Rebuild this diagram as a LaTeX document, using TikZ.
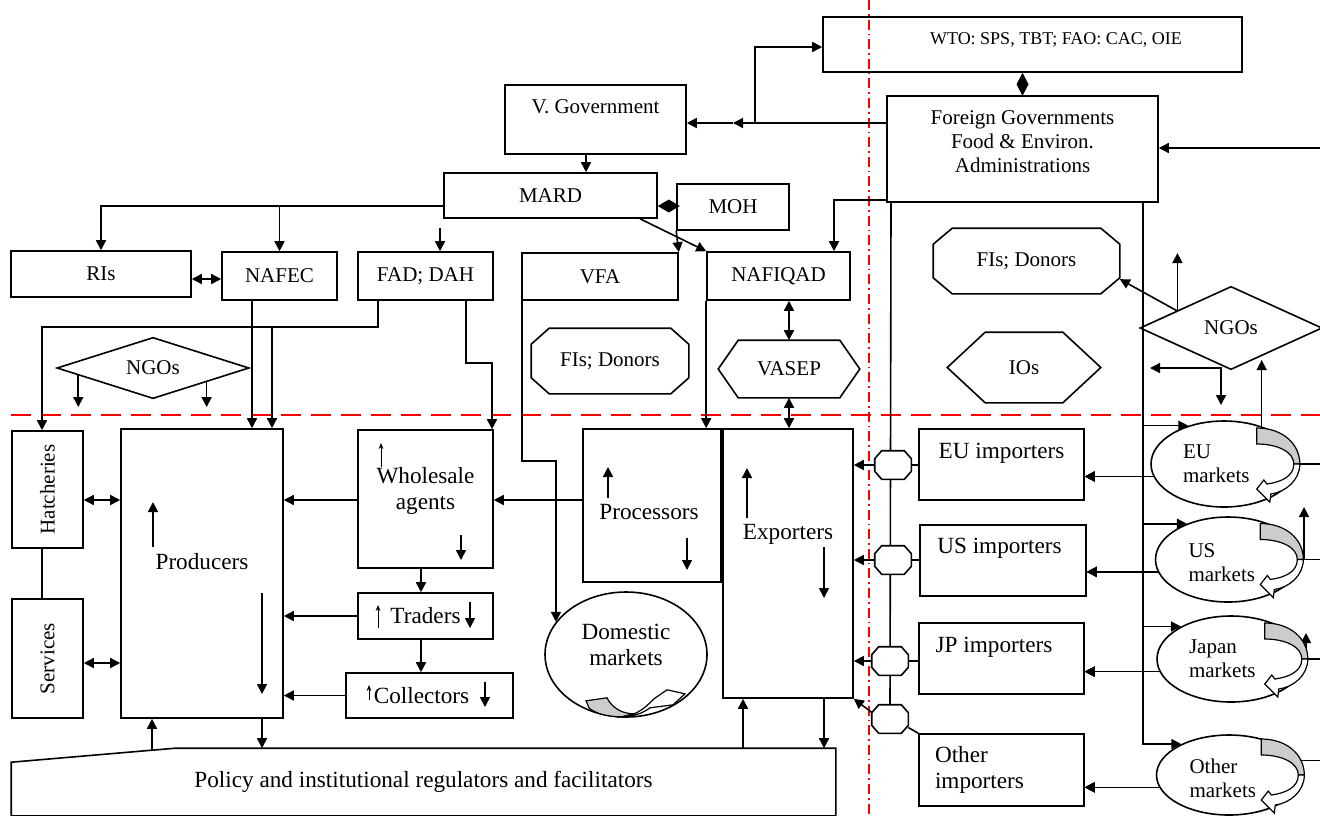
\documentclass[tikz,border=0pt]{standalone}
\usepackage{fontspec}
\setmainfont{Liberation Serif}
\usetikzlibrary{arrows.meta, calc, positioning, shapes.geometric}
\newcommand\smfont{\fontsize{10.5}{12}\selectfont}
\newcommand\lgfont{\fontsize{11.6}{13}\selectfont}
\newcommand\wtofont{\fontsize{9}{11}\selectfont}
% outlines drawn round plain nodes
\newcommand\octo[4][]{\draw[#1] ([yshift=-#4]#2.north west) -- ([xshift=#3]#2.north west) -- ([xshift=-#3]#2.north east) -- ([yshift=-#4]#2.north east) -- ([yshift=#4]#2.south east) -- ([xshift=-#3]#2.south east) -- ([xshift=#3]#2.south west) -- ([yshift=#4]#2.south west) -- cycle;}
\newcommand\hexa[2]{\draw (#1.west) -- ([xshift=#2]#1.north west) -- ([xshift=-#2]#1.north east) -- (#1.east) -- ([xshift=-#2]#1.south east) -- ([xshift=#2]#1.south west) -- cycle;}
\newcommand\rhomb[1]{\draw (#1.west) -- (#1.north) -- (#1.east) -- (#1.south) -- cycle;}
\tikzset{
  box/.style={draw, inner sep=0pt, font=\smfont},
  shp/.style={inner sep=0pt, font=\smfont},
  mkt/.style={draw, ellipse, inner sep=0pt},
  lbl/.style={inner sep=0pt, align=center, font=\smfont},
  small arrow/.style={line width=0.5pt, -{Stealth[length=3pt,width=2.4pt]}},
  redline/.style={red, line width=0.9pt, dash pattern=on 10pt off 5pt},
  reddot/.style={red, line width=0.7pt, dash pattern=on 5pt off 2pt on 0.8pt off 2pt},
  cyc/.pic={
    \filldraw[fill=gray!40, line width=0.6pt] (-41,-36) .. controls (-15,-36) and (2,-20) .. (2,0) -- (-4,0) .. controls (-4,-12) and (-20,-20) .. (-41,-20) -- cycle;
    \filldraw[fill=white, line width=0.6pt] (2,0) .. controls (2,16) and (-12,28) .. (-27,30) -- (-28,38) -- (-41,25) -- (-34,16) -- (-31,20) .. controls (-16,18) and (-4,12) .. (-4,0) -- cycle;
  }
}
\begin{document}
\begin{tikzpicture}[x=0.5pt, y=-0.5pt, line width=0.8pt, >={Triangle[length=5pt,width=5pt]}]
\useasboundingbox (0,0) rectangle (1320,815);
\draw[redline] (11,415) -- (1320,415);
\draw[reddot] (869,0) -- (869,815);

% upper half
\node[box, minimum width=209.5pt, minimum height=27.5pt, label={[lbl, font=\wtofont, xshift=11.75pt, yshift=2.25pt]center:{WTO: SPS, TBT; FAO: CAC, OIE}}] (wto) at (1032.5,44.5) {};
\node[box, minimum width=90.5pt, minimum height=34.5pt, label={[lbl, yshift=6.25pt]center:V. Government}] (gov) at (595.5,119.5) {};
\node[box, minimum width=135.5pt, minimum height=53pt, label={[lbl, yshift=3.5pt]center:{Foreign Governments\\Food \& Environ.\\Administrations}}] (foreign) at (1022.5,149) {};
\node[box, minimum width=106.5pt, minimum height=22.5pt] (mard) at (550.5,195.5) {MARD};
\node[box, minimum width=56pt, minimum height=23pt] (moh) at (733,207) {MOH};
\node[box, minimum width=90pt, minimum height=23pt] (ris) at (101,274) {RIs};
\node[box, minimum width=57.5pt, minimum height=24pt] (nafec) at (279.5,276) {NAFEC};
\node[box, minimum width=67.5pt, minimum height=24pt] (fad) at (425.5,276) {FAD; DAH};
\node[box, minimum width=78pt, minimum height=23.5pt] (vfa) at (600,276.5) {VFA};
\node[box, minimum width=71.5pt, minimum height=24pt] (nafiqad) at (778.5,276) {NAFIQAD};
\node[shp, minimum width=92.5pt, minimum height=32pt] (fisR) at (1026.5,261) {FIs; Donors};
\node[shp, minimum width=78pt, minimum height=32pt] (fisM) at (610,361) {FIs; Donors};
\node[shp, minimum width=70pt, minimum height=28pt] (vasep) at (789,369) {VASEP};
\node[shp, minimum width=76pt, minimum height=34.5pt] (ios) at (1024,367.5) {IOs};
\node[shp, minimum width=95pt, minimum height=29.5pt] (ngoL) at (153,368) {NGOs};
\node[shp, minimum width=90pt, minimum height=40.5pt] (ngoR) at (1231,328) {NGOs};
\octo{fisR}{9.5pt}{8pt}
\octo{fisM}{9pt}{8pt}
\hexa{vasep}{10pt}
\hexa{ios}{19pt}
\rhomb{ngoL}
\rhomb{ngoR}

% lower half
\node[box, minimum width=35.5pt, minimum height=58.5pt, label={[lbl, rotate=90]center:Hatcheries}] (hatch) at (47.5,489.5) {};
\node[box, minimum width=35.5pt, minimum height=59.5pt, label={[lbl, rotate=90]center:Services}] (serv) at (47.5,658.5) {};
\node[box, minimum width=81pt, minimum height=144.5pt, label={[lbl, font=\lgfont, yshift=5.75pt]center:Producers}] (prod) at (202,573.5) {};
\node[box, minimum width=67.5pt, minimum height=69pt, label={[lbl, font=\lgfont, yshift=4pt]center:{Wholesale\\agents}}] (whole) at (425.5,499) {};
\node[box, font=\lgfont, minimum width=67.5pt, minimum height=23pt] (trad) at (425.5,616) {Traders};
\node[box, minimum width=83.5pt, minimum height=22.5pt, label={[lbl, font=\lgfont, xshift=-4pt]center:Collectors}] (coll) at (429.5,695.5) {};
\node[mkt, minimum width=81pt, minimum height=62.5pt, label={[lbl, font=\lgfont, yshift=4.75pt]center:{Domestic\\markets}}] (dom) at (626,654.5) {};
\node[box, minimum width=69pt, minimum height=76.5pt, label={[lbl, font=\lgfont, xshift=-1.5pt, yshift=-3.25pt]center:Processors}] (proc) at (652,505.5) {};
\node[box, minimum width=65pt, minimum height=134.5pt, label={[lbl, font=\lgfont, yshift=14.75pt]center:Exporters}] (expo) at (788,563.5) {};
\node[shp, font=\lgfont, minimum width=411.5pt, minimum height=33pt] (policy) at (423.5,782) {Policy and institutional regulators and facilitators};
\draw (policy.south west) -- ([yshift=-7pt]policy.north west) -- ([xshift=82pt]policy.north west) -- (policy.north east) -- (policy.south east) -- cycle;

\node[shp, minimum width=17.5pt, minimum height=13.5pt] (oct1) at (893,465) {};
\node[shp, minimum width=17.5pt, minimum height=13.5pt] (oct2) at (893,560) {};
\node[shp, minimum width=17.5pt, minimum height=13.5pt] (oct3) at (890,661) {};
\node[shp, minimum width=17.5pt, minimum height=13.5pt] (oct4) at (890,719) {};
\node[box, minimum width=82.5pt, minimum height=35.5pt, label={[lbl, font=\lgfont, yshift=5.75pt]center:EU importers}] (euimp) at (1001.5,464.5) {};
\node[box, minimum width=83pt, minimum height=35.5pt, label={[lbl, font=\lgfont, xshift=-1.75pt, yshift=6pt]center:US importers}] (usimp) at (1003,560.5) {};
\node[box, minimum width=82.5pt, minimum height=35.5pt, label={[lbl, font=\lgfont, xshift=-3.75pt, yshift=5.75pt]center:JP importers}] (jpimp) at (1001.5,658.5) {};
\node[box, minimum width=82.5pt, minimum height=36pt, label={[lbl, font=\lgfont, align=left, anchor=west, xshift=8pt]west:{Other\\importers}}] (otimp) at (1001.5,770) {};
\node[mkt, minimum width=73pt, minimum height=43pt, label={[lbl, align=left, anchor=west, xshift=16pt]west:{EU\\markets}}] (eumk) at (1224,464) {};
\node[mkt, minimum width=72.5pt, minimum height=42.5pt, label={[lbl, align=left, anchor=west, xshift=16.5pt, yshift=-1.5pt]west:{US\\markets}}] (usmk) at (1228,559.5) {};
\node[mkt, minimum width=74pt, minimum height=43pt, label={[lbl, align=left, anchor=west, xshift=16pt]west:{Japan\\markets}}] (jpmk) at (1231,659) {};
\node[mkt, minimum width=72.5pt, minimum height=40pt, label={[lbl, align=left, anchor=west, xshift=16.5pt, yshift=-1.75pt]west:{Other\\markets}}] (otmk) at (1229,775) {};

% government links
\coordinate (vmid) at (733,123);
\coordinate (vbr) at (755,123);
\draw[->] (foreign.west |- vmid) -- (vmid);
\draw[->] (vmid) -- (gov.east |- vmid);
\draw[->] (vbr) |- (wto.west |- 0,47);
\draw[-{Diamond[length=11.5pt,width=6pt]}] (foreign.north) -- (foreign.north |- wto.south);
\draw[-{Diamond[length=11pt,width=6.5pt]}] (moh.west |- 0,206) -- (mard.east |- 0,206);
\draw[->] (gov.south -| 586,0) -- (mard.north -| 586,0);
\draw[->] (mard.west |- 0,206) -| (ris.north);
\draw[->] (nafec.north |- 0,206) -- (nafec.north);
\coordinate (fadtop) at (440,228);
\draw[->] (fadtop) -- (fadtop |- fad.north);
\draw[->] (mard.south -| 640,0) -- (nafiqad.north west);
\draw[->] (moh.south west) -- (vfa.north east);
\draw[->] (foreign.west |- 0,200) -| (nafiqad.north -| 834,0);
\coordinate (redge) at (1320,148);
\draw[->] (redge) -- (foreign.east |- redge);
\draw[<->] (ris.east |- 0,279) -- (nafec.west |- 0,279);

% agencies to the chain
\coordinate (fadj) at (378,327);
\draw[->] (fad.south -| fadj) -- (fadj) -| (hatch.north -| 42,0);
\draw[->] (fadj -| 272,0) -- (prod.north -| 272,0);
\draw[->] (nafec.south -| 252,0) -- (prod.north -| 252,0);
\coordinate (fadw) at (466,363);
\draw[->] (fad.south -| fadw) -- (fadw) -| (whole.north -| 492,0);
\coordinate (ngl1) at ($(ngoL.west)!0.22!(ngoL.south)$);
\coordinate (ngl2) at ($(ngoL.south)!0.56!(ngoL.east)$);
\draw[->] (ngl1) -- (ngl1 |- 0,407);
\draw[->] (ngl2) -- (ngl2 |- 0,407);
\draw[->] (vfa.south -| 522,0) |- (dom.155 |- 0,461) -- (dom.155);
\draw[->] (nafiqad.south west) -- (nafiqad.south west |- proc.north);
\draw[<->] (nafiqad.south -| vasep.north) -- (vasep.north);
\draw[<->] (vasep.south) -- (vasep.south |- expo.north);

% foreign side
\coordinate (ngoa) at ($(ngoR.west)!0.41!(ngoR.north)$);
\draw[->] (ngoa) -- (fisR.-11);
\draw[->] (ngoa) -- (ngoa |- 0,253);
\coordinate (ngol) at (1150,368);
\coordinate (ngod) at (1221,405);
\draw[<->] (ngol) -| (ngod);
\draw[->] (eumk.45) -- (eumk.45 |- 0,360);
\draw[->] (foreign.south -| 1143,0) |- (otmk.147);
\foreach \m/\a in {eumk/133, usmk/139, jpmk/147}
  \draw[->] (1143,0 |- \m.\a) -- (\m.\a);
\draw (foreign.south -| 891,0) -- (oct4.north);
\foreach \o in {oct1, oct2, oct3}
  \draw[->] (\o.west) -- (expo.east |- \o.west);
\draw[->] (oct4.160) -- (expo.south east);
\draw (oct1.east) -- (euimp.west |- oct1.east);
\draw (oct2.east) -- (usimp.west |- oct2.east);
\draw (oct3.east) -- (jpimp.west |- oct3.east);
\draw (oct4.-25) -- (otimp.north west);
\foreach \o in {oct1, oct2, oct3, oct4}
  \octo[fill=white]{\o}{3.5pt}{4pt}
\foreach \m/\i in {eumk/euimp, usmk/usimp, jpmk/jpimp, otmk/otimp}
  \draw[->] (\m.190) -- (\i.east |- \m.190);
\coordinate (rx) at (1320,0);
\draw (eumk.east) -- (eumk.east -| rx);
\draw (usmk.east) -- (usmk.east -| rx);
\draw (jpmk.east) -- (jpmk.east -| rx);
\draw (otmk.12) -- (otmk.12 -| rx);
\coordinate (usup) at (1304,507);
\coordinate (jpup) at (1306,633);
\draw[->] (usup |- usmk.east) -- (usup);
\draw[->] (jpup |- jpmk.east) -- (jpup);
\foreach \m in {eumk, usmk, jpmk, otmk}
  \pic at (\m.east) {cyc};

% domestic chain
\draw[<->] (hatch.east |- 0,500) -- (prod.west |- 0,500);
\draw[<->] (serv.east |- 0,663) -- (prod.west |- 0,663);
\draw (hatch.south -| 42,0) -- (serv.north -| 42,0);
\draw[->] (whole.west |- 0,500) -- (prod.east |- 0,500);
\draw[->] (proc.west |- 0,500) -- (whole.east |- 0,500);
\draw[->] (whole.south -| 421,0) -- (trad.north -| 421,0);
\draw[->] (trad.west) -- (prod.east |- trad.west);
\draw[->] (trad.south -| 421,0) -- (coll.north -| 421,0);
\draw[->] (coll.west) -- (prod.east |- coll.west);
\coordinate (polslant) at (152,751);
\draw[->] (polslant) -- (polslant |- prod.south);
\draw[->] (prod.south -| 262,0) -- (policy.north -| 262,0);
\draw[->] (policy.north -| 743,0) -- (expo.south -| 743,0);
\draw[->] (expo.south -| 824,0) -- (policy.north -| 824,0);
\begin{scope}[shift={(dom.south)}]
  \filldraw[fill=gray!40, line width=0.6pt] (-40,-17) -- (-19,-20) .. controls (-14,-10) and (-4,-4) .. (8,-4) -- (-4,-1) .. controls (-20,-1) and (-32,-5) .. (-37,-10) -- cycle;
  \filldraw[fill=white, line width=0.6pt] (8,-4) .. controls (16,-7) and (23,-14) .. (28,-19) -- (41,-28) -- (59,-24) -- (47,-13) -- (24,-10) .. controls (16,-4) and (6,-1) .. (-4,-1) -- cycle;
\end{scope}

% up and down flows inside boxes
\draw[->] ($(prod.center)+(-49,-26.5)$) -- ++(0,-45);
\draw[->] ($(prod.center)+(60,19.5)$) -- ++(0,101);
\draw[small arrow] ($(whole.center)+(-44.5,-32)$) -- ++(0,-24);
\draw[->] ($(whole.center)+(35.5,36)$) -- ++(0,25);
\draw[small arrow] ($(trad.center)+(-47.5,12)$) -- ++(0,-23);
\draw[->] ($(trad.center)+(44.5,-14)$) -- ++(0,26);
\draw[small arrow] ($(coll.center)+(-60.5,4.5)$) -- ++(0,-15);
\draw[->] ($(coll.center)+(55.5,-13.5)$) -- ++(0,25);
\draw[->] ($(proc.center)+(-44,-7.5)$) -- ++(0,-31);
\draw[->] ($(proc.center)+(35,32.5)$) -- ++(0,32);
\draw[->] ($(expo.center)+(-41,-45.5)$) -- ++(0,-50);
\draw[->] ($(expo.center)+(36,-16.5)$) -- ++(0,51);
\end{tikzpicture}
\end{document}
